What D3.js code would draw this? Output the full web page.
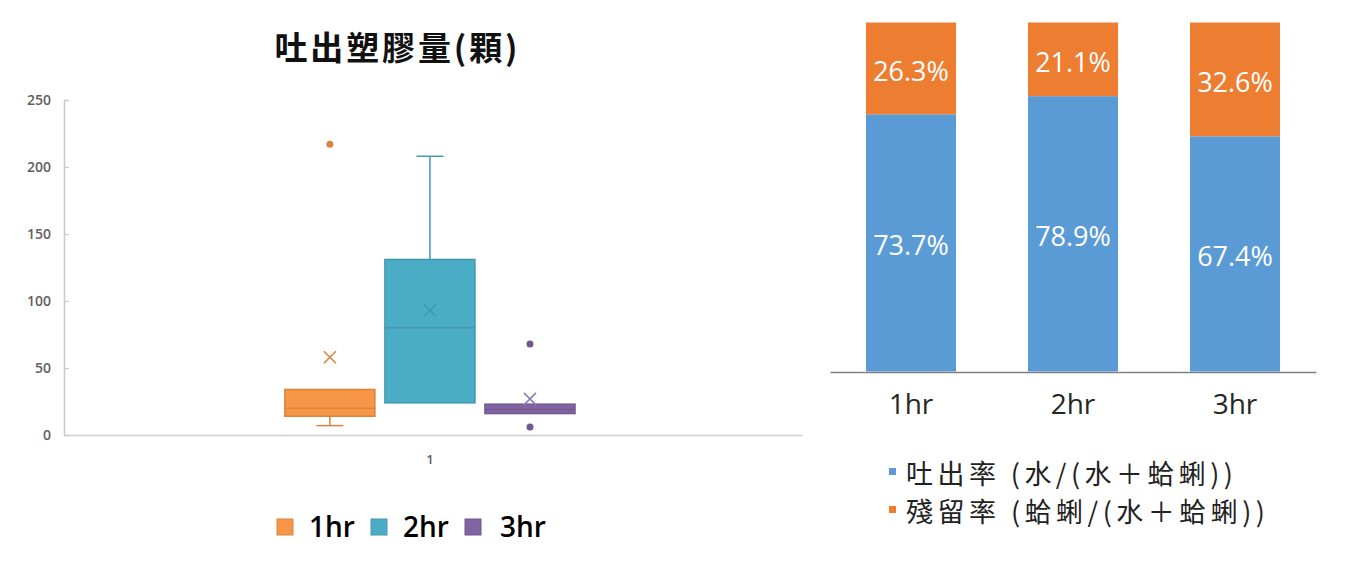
<!DOCTYPE html>
<html>
<head>
<meta charset="utf-8">
<script src="https://cdn.jsdelivr.net/npm/d3@7"></script>
<style>
  html, body { margin: 0; padding: 0; background: #fff; }
  svg { display: block; }
</style>
</head>
<body>
<svg id="chart" width="1370" height="584"></svg>
<script>
'use strict';

// left chart: box plot of plastic beads spat out
var boxTitle = "吐出塑膠量(顆)";
var boxCategory = ["1"];
var boxSeries = ["1hr", "2hr", "3hr"];
var boxLow = [7, 24, 16];       // lower whisker end
var boxQ1 = [14, 24, 16];
var boxMedian = [20, 80, 19];
var boxQ3 = [34, 131, 23];
var boxHigh = [34, 208, 23];    // upper whisker end
var boxMean = [58, 93, 27];
var boxOutliers = [[217], [], [68, 6]];
var boxTicks = [0, 50, 100, 150, 200, 250];

// right chart: stacked 100% bars
var rateCategories = ["1hr", "2hr", "3hr"];
var spitRate = [73.7, 78.9, 67.4];
var remainRate = [26.3, 21.1, 32.6];
var rateSeries = ["吐出率 (水/(水＋蛤蜊))", "殘留率 (蛤蜊/(水＋蛤蜊))"];

var svg = d3.select("#chart");
var cjk = "'Noto Sans CJK TC', 'Noto Sans', sans-serif";
var latin = "'Open Sans', 'Noto Sans', sans-serif";

var boxFill = ["#F79646", "#4BACC6", "#8064A2"];
var boxEdge = boxFill.map(function(c) { return d3.color(c).darker(0.35).formatHex(); });

var boxChart = function() {
  var g = svg.append("g");
  var y = d3.scaleLinear().domain([0, 250]).range([435, 100]);
  var x0 = d3.scaleBand().domain(boxCategory).range([65, 802])
    .paddingInner(0).paddingOuter(0.77).align(0.492);
  var x1 = d3.scaleBand().domain(boxSeries).range([0, x0.bandwidth()]).paddingInner(0.1);

  g.append("text")
    .attr("x", 396).attr("y", 46)
    .attr("text-anchor", "middle")
    .attr("dominant-baseline", "central")
    .attr("font-family", cjk)
    .attr("font-weight", "bold")
    .attr("font-size", "33px")
    .attr("fill", "#111")
    .attr("textLength", 243)
    .attr("lengthAdjust", "spacing")
    .text(boxTitle);

  var yAxis = g.append("g")
    .attr("transform", "translate(64,0)")
    .call(d3.axisLeft(y).tickValues(boxTicks).tickSize(-5).tickPadding(13));
  yAxis.select(".domain").attr("stroke", "#C8C8C8").attr("stroke-width", 1.5);
  yAxis.selectAll(".tick line").attr("stroke", "#C8C8C8");
  yAxis.selectAll(".tick text")
    .attr("font-family", latin).attr("font-size", "14px")
    .attr("font-weight", "600").attr("fill", "#606060");

  var xAxis = g.append("g")
    .attr("transform", "translate(0,435)")
    .call(d3.axisBottom(x0).tickSize(0).tickPadding(20));
  xAxis.select(".domain").attr("stroke", "#D0D0D0").attr("stroke-width", 1.5);
  xAxis.selectAll(".tick text")
    .attr("font-family", latin).attr("font-size", "13px")
    .attr("font-weight", "600").attr("fill", "#606060");

  var boxes = g.selectAll(".box")
    .data(boxSeries)
    .enter()
    .append("g")
    .attr("class", "box")
    .attr("transform", function(d) { return "translate(" + (x0("1") + x1(d)) + ",0)"; });

  var w = x1.bandwidth();
  var cx = w / 2;
  var cap = w * 0.15;

  boxes.each(function(d, i) {
    var b = d3.select(this);
    if (boxHigh[i] > boxQ3[i]) {
      b.append("line").attr("x1", cx).attr("x2", cx)
        .attr("y1", y(boxQ3[i])).attr("y2", y(boxHigh[i]))
        .attr("stroke", boxEdge[i]).attr("stroke-width", 1.5);
      b.append("line").attr("x1", cx - cap).attr("x2", cx + cap)
        .attr("y1", y(boxHigh[i])).attr("y2", y(boxHigh[i]))
        .attr("stroke", boxEdge[i]).attr("stroke-width", 1.5);
    }
    if (boxLow[i] < boxQ1[i]) {
      b.append("line").attr("x1", cx).attr("x2", cx)
        .attr("y1", y(boxQ1[i])).attr("y2", y(boxLow[i]))
        .attr("stroke", boxEdge[i]).attr("stroke-width", 1.5);
      b.append("line").attr("x1", cx - cap).attr("x2", cx + cap)
        .attr("y1", y(boxLow[i])).attr("y2", y(boxLow[i]))
        .attr("stroke", boxEdge[i]).attr("stroke-width", 1.5);
    }
    b.append("rect")
      .attr("x", 0).attr("y", y(boxQ3[i]))
      .attr("width", w).attr("height", y(boxQ1[i]) - y(boxQ3[i]))
      .attr("fill", boxFill[i])
      .attr("stroke", boxEdge[i]).attr("stroke-width", 1.5);
    b.append("line").attr("x1", 0).attr("x2", w)
      .attr("y1", y(boxMedian[i])).attr("y2", y(boxMedian[i]))
      .attr("stroke", boxEdge[i]).attr("stroke-width", 1.5);
    var my = y(boxMean[i]), s = 6;
    b.append("path")
      .attr("d", "M" + (cx - s) + "," + (my - s) + "L" + (cx + s) + "," + (my + s) +
                 "M" + (cx - s) + "," + (my + s) + "L" + (cx + s) + "," + (my - s))
      .attr("stroke", i == 2 ? "#8E80B0" : boxEdge[i])
      .attr("stroke-width", 1.6).attr("fill", "none");
    b.selectAll(".outlier")
      .data(boxOutliers[i])
      .enter()
      .append("circle")
      .attr("cx", cx).attr("cy", function(v) { return y(v); })
      .attr("r", 3.5)
      .attr("fill", boxEdge[i]);
  });

  var legend = g.selectAll(".lg")
    .data(boxSeries)
    .enter()
    .append("g")
    .attr("transform", function(d, i) { return "translate(" + (277 + i * 94) + ",519)"; });
  legend.append("rect")
    .attr("width", 16).attr("height", 16)
    .attr("fill", function(d, i) { return boxFill[i]; })
    .attr("stroke", function(d, i) { return boxEdge[i]; });
  legend.append("text")
    .attr("x", function(d, i) { return i == 2 ? 35 : 32; })
    .attr("y", 8).attr("dy", "0.36em")
    .attr("font-family", latin).attr("font-weight", "600")
    .attr("font-size", "28px").attr("fill", "#000")
    .text(function(d) { return d; });
};
boxChart();

var rateChart = function() {
  var g = svg.append("g");
  var colors = ["#5B9BD5", "#ED7D31"];
  var x = d3.scaleBand().domain(rateCategories).range([830, 1316]).paddingInner(0.444).paddingOuter(0.222);
  var y = d3.scaleLinear().domain([0, 100]).range([371.5, 22.5]);

  var rows = rateCategories.map(function(c, i) {
    return { cat: c, spit: spitRate[i], remain: remainRate[i] };
  });
  var stack = d3.stack().keys(["spit", "remain"])(rows);

  var layers = g.selectAll(".layer")
    .data(stack)
    .enter()
    .append("g")
    .attr("fill", function(d, i) { return colors[i]; });

  layers.selectAll("rect")
    .data(function(d) { return d; })
    .enter()
    .append("rect")
    .attr("x", function(d) { return x(d.data.cat); })
    .attr("y", function(d) { return y(d[1]); })
    .attr("width", x.bandwidth())
    .attr("height", function(d) { return y(d[0]) - y(d[1]); });

  layers.selectAll("text")
    .data(function(d) { return d.map(function(p) { return { p: p, key: d.key }; }); })
    .enter()
    .append("text")
    .attr("x", function(d) { return x(d.p.data.cat) + x.bandwidth() / 2; })
    .attr("y", function(d) { return (y(d.p[0]) + y(d.p[1])) / 2 + 2; })
    .attr("text-anchor", "middle")
    .attr("dominant-baseline", "central")
    .attr("font-family", latin).attr("font-size", "27px")
    .attr("fill", "#fff")
    .text(function(d) { return d.p.data[d.key].toFixed(1) + "%"; });

  var xAxis = g.append("g")
    .attr("transform", "translate(0,372)")
    .call(d3.axisBottom(x).tickSize(0).tickPadding(22));
  xAxis.select(".domain").attr("stroke", "#808080").attr("stroke-width", 1.5);
  xAxis.selectAll(".tick text")
    .attr("font-family", latin).attr("font-size", "28px").attr("fill", "#262626");

  var legend = g.selectAll(".lg")
    .data(rateSeries)
    .enter()
    .append("g")
    .attr("transform", function(d, i) { return "translate(889," + (468 + i * 38) + ")"; });
  legend.append("rect")
    .attr("width", 7).attr("height", 7)
    .attr("fill", function(d, i) { return colors[i]; });
  legend.append("text")
    .attr("x", 17).attr("y", 4)
    .attr("dominant-baseline", "central")
    .attr("font-family", cjk).attr("font-size", "27px").attr("fill", "#222")
    .attr("textLength", function(d, i) { return i == 0 ? 327 : 359; })
    .attr("lengthAdjust", "spacing")
    .text(function(d) { return d; });
};
rateChart();
</script>
</body>
</html>
